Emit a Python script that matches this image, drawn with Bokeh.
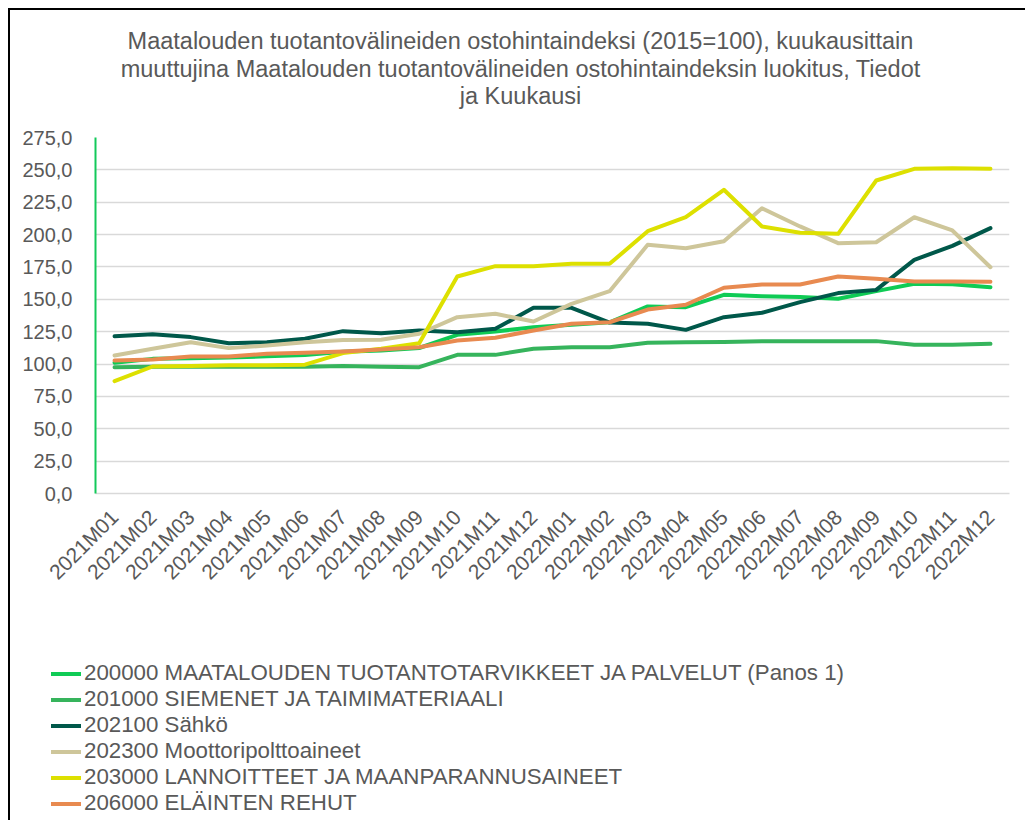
from bokeh.plotting import figure
from bokeh.layouts import column
from bokeh.models import (FactorRange, Range1d, FixedTicker, CustomJSTickFormatter,
                          Legend, LegendItem, Div)
from bokeh.embed import file_html
from bokeh.resources import INLINE
import math

months = ["2021M01", "2021M02", "2021M03", "2021M04", "2021M05", "2021M06",
          "2021M07", "2021M08", "2021M09", "2021M10", "2021M11", "2021M12",
          "2022M01", "2022M02", "2022M03", "2022M04", "2022M05", "2022M06",
          "2022M07", "2022M08", "2022M09", "2022M10", "2022M11", "2022M12"]

s200000 = [101.0, 104.0, 104.5, 105.0, 106.0, 107.0, 109.5, 110.5, 112.4, 122.6, 125.1, 128.5,
           130.3, 132.3, 144.5, 143.9, 153.5, 152.4, 151.7, 150.4, 156.3, 162.0, 161.7, 159.4]
s201000 = [97.6, 97.9, 97.9, 97.9, 97.9, 97.9, 98.5, 97.9, 97.6, 107.1, 107.1, 111.8,
           113.0, 113.0, 116.4, 116.9, 117.1, 117.7, 117.7, 117.7, 117.7, 114.9, 114.9, 115.6]
s202100 = [121.5, 123.0, 120.8, 116.1, 116.9, 119.5, 125.4, 123.8, 125.9, 124.6, 127.2, 143.4,
           143.4, 132.0, 131.1, 126.4, 136.2, 139.6, 147.8, 154.8, 157.3, 180.5, 191.3, 205.0]
s202300 = [106.6, 111.8, 116.9, 112.3, 114.3, 116.9, 118.5, 118.7, 123.4, 136.2, 138.8, 132.9,
           146.5, 156.3, 192.1, 189.5, 194.9, 220.4, 206.3, 193.4, 194.1, 213.4, 203.2, 174.8]
s203000 = [86.8, 98.1, 98.4, 99.0, 99.0, 99.5, 108.5, 111.8, 116.1, 167.6, 175.6, 175.6,
           177.4, 177.4, 202.6, 213.4, 234.6, 206.3, 201.4, 200.6, 241.8, 250.8, 251.3, 250.8]
s206000 = [102.7, 103.5, 105.8, 105.8, 107.9, 108.7, 109.7, 111.2, 113.0, 118.2, 120.3, 125.9,
           131.1, 132.3, 142.1, 145.8, 158.9, 161.5, 161.5, 167.6, 165.9, 163.8, 163.8, 163.5]

series_names = ["200000 MAATALOUDEN TUOTANTOTARVIKKEET JA PALVELUT (Panos 1)",
                "201000 SIEMENET JA TAIMIMATERIAALI",
                "202100 Sähkö",
                "202300 Moottoripolttoaineet",
                "203000 LANNOITTEET JA MAANPARANNUSAINEET",
                "206000 ELÄINTEN REHUT"]
series_values = [s200000, s201000, s202100, s202300, s203000, s206000]
series_colors = ["#0FCB55", "#36B45C", "#00584A", "#CEC69A", "#DDE000", "#E88A50"]

y_ticks = [0, 25, 50, 75, 100, 125, 150, 175, 200, 225, 250, 275]

title_lines = ["Maatalouden tuotantovälineiden ostohintaindeksi (2015=100), kuukausittain",
               "muuttujina Maatalouden tuotantovälineiden ostohintaindeksin luokitus, Tiedot",
               "ja Kuukausi"]

FONT = "Liberation Sans"
TXT = "#595959"
W = 1015

# ---- title ----
title_div = Div(
    text=('<div style="width:1010px; box-sizing:border-box; text-align:center; '
          'padding-top:18px; padding-left:11px; font-family:\'%s\'; font-size:23.5px; '
          'line-height:27.5px; color:%s; white-space:nowrap;">%s</div>')
         % (FONT, TXT, "<br>".join(title_lines)),
    width=W, height=110, margin=0)

# ---- main chart ----
p = figure(width=W, height=500, x_range=FactorRange(*months), y_range=Range1d(0, 275),
           output_backend="svg", toolbar_location=None, margin=0,
           min_border_left=85, min_border_right=16, min_border_top=17, min_border_bottom=127)
p.outline_line_color = None
p.background_fill_color = "white"
p.border_fill_color = "white"

p.xgrid.grid_line_color = None
p.ygrid.grid_line_color = "#D9D9D9"
p.ygrid.grid_line_width = 1.5

p.yaxis.ticker = FixedTicker(ticks=y_ticks)
p.yaxis.formatter = CustomJSTickFormatter(code="return tick.toFixed(1).replace('.', ',');")
p.yaxis.axis_line_color = "#13C95A"
p.yaxis.axis_line_width = 2
p.yaxis.major_tick_line_color = None
p.yaxis.minor_tick_line_color = None
p.yaxis.major_label_text_font = FONT
p.yaxis.major_label_text_font_size = "20px"
p.yaxis.major_label_text_color = TXT
p.yaxis.major_label_standoff = 17

p.xaxis.axis_line_color = "#D9D9D9"
p.xaxis.axis_line_width = 1.5
p.xaxis.major_tick_line_color = None
p.xaxis.minor_tick_line_color = None
p.xaxis.major_label_orientation = math.pi / 4
p.xaxis.major_label_text_font = FONT
p.xaxis.major_label_text_font_size = "21px"
p.xaxis.major_label_text_color = TXT
p.xaxis.major_label_standoff = 14

for vals, col in zip(series_values, series_colors):
    p.line(months, vals, line_color=col, line_width=4, line_cap="round", line_join="round")

# ---- legend panel (series drawn out of view; only their legend keys show) ----
p2 = figure(width=W, height=200, x_range=FactorRange(*months), y_range=Range1d(-20, -10),
            output_backend="svg", toolbar_location=None, margin=0,
            min_border_left=0, min_border_right=0, min_border_top=0, min_border_bottom=0)
p2.frame_align = False
p2.axis.visible = False
p2.grid.visible = False
p2.outline_line_color = None
p2.border_fill_color = "white"
p2.background_fill_color = "white"

items = []
for name, vals, col in zip(series_names, series_values, series_colors):
    r = p2.line(months, vals, line_color=col, line_width=4, line_cap="round")
    items.append(LegendItem(label=name, renderers=[r]))

legend = Legend(items=items, location=(41, 4), orientation="vertical",
                border_line_color=None, background_fill_alpha=0,
                label_text_font=FONT, label_text_font_size="22.3px", label_text_color=TXT,
                glyph_width=30, glyph_height=25, label_height=25, spacing=0,
                label_standoff=3, padding=0, margin=0)
p2.add_layout(legend, "center")

layout = column(title_div, p, p2, spacing=0, margin=(8, 0, 0, 8),
                styles={"border-left": "2px solid #000000", "border-top": "2px solid #000000"})

open("out.html", "w").write(file_html(layout, INLINE))
